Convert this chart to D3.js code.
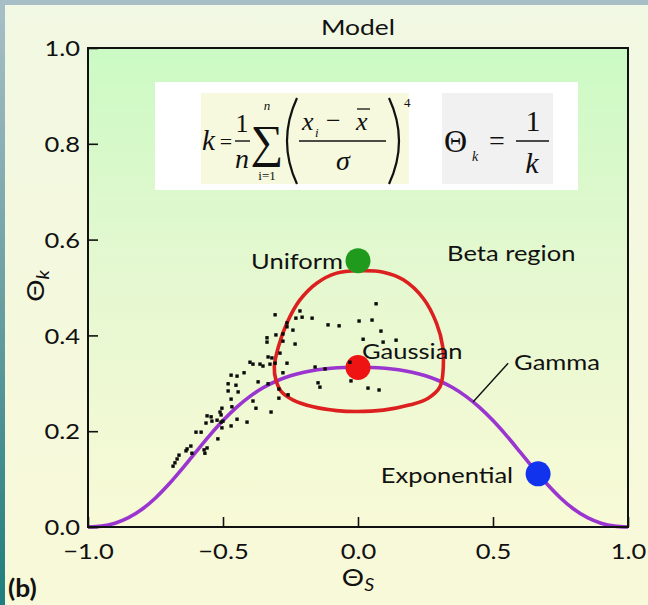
<!DOCTYPE html>
<html>
<head>
<meta charset="utf-8">
<script src="https://cdn.jsdelivr.net/npm/d3@7"></script>
<style>
  html, body { margin: 0; padding: 0; background: #f4f8df; }
  svg { display: block; }
</style>
</head>
<body>
<script>
// ---- data -------------------------------------------------------------
const xTickValues = [-1.0, -0.5, 0.0, 0.5, 1.0];
const yTickValues = [0.0, 0.2, 0.4, 0.6, 0.8, 1.0];

// Gamma family curve in the (Θs, Θk) plane
const gammaThetaS = [-1.0, -0.95, -0.9, -0.85, -0.8, -0.75, -0.7, -0.65, -0.6, -0.55, -0.5,
                     -0.45, -0.4, -0.35, -0.3, -0.25, -0.2, -0.15, -0.1, -0.05, 0.0,
                     0.05, 0.1, 0.15, 0.2, 0.25, 0.3, 0.35, 0.4, 0.45, 0.5,
                     0.55, 0.6, 0.65, 0.7, 0.75, 0.8, 0.85, 0.9, 0.95, 1.0];
const gammaThetaK = [0.0, 0.0018, 0.0080, 0.0195, 0.0370, 0.0606, 0.0896, 0.1223, 0.1569, 0.1908, 0.2222,
                     0.2497, 0.2727, 0.2911, 0.3053, 0.3158, 0.3232, 0.3282, 0.3313, 0.3329, 0.3333,
                     0.3329, 0.3313, 0.3282, 0.3232, 0.3158, 0.3053, 0.2911, 0.2727, 0.2497, 0.2222,
                     0.1908, 0.1569, 0.1223, 0.0896, 0.0606, 0.0370, 0.0195, 0.0080, 0.0018, 0.0];

// closed contour around the Gaussian point
const loopThetaS = [0.001, -0.079, -0.153, -0.215, -0.264, -0.295, -0.310, -0.304, -0.283, -0.240,
                    -0.166, -0.079, -0.005, 0.094, 0.193, 0.260, 0.304, 0.316, 0.314, 0.291,
                    0.242, 0.168, 0.094];
const loopThetaK = [0.535, 0.530, 0.509, 0.474, 0.425, 0.376, 0.335, 0.307, 0.282, 0.265,
                    0.251, 0.243, 0.241, 0.244, 0.255, 0.269, 0.293, 0.335, 0.376, 0.425,
                    0.477, 0.516, 0.532];

// observed samples
const sampleThetaS = [0.067, -0.307, -0.215, -0.230, -0.207, -0.170, -0.263, -0.263, -0.241, -0.111,
                      -0.070, 0.004, 0.052, 0.085, -0.337, -0.337, -0.304, -0.278, -0.278, -0.233,
                      0.019, 0.093, 0.141, -0.289, -0.333, -0.319, -0.400, -0.389, -0.363, -0.352,
                      -0.326, -0.307, -0.263, -0.159, -0.122, -0.030, -0.278, -0.422, -0.470, -0.448,
                      -0.370, -0.333, -0.481, -0.452, -0.481, -0.444, -0.293, -0.293, -0.259, -0.148,
                      -0.141, -0.026, 0.037, 0.078, -0.470, -0.389, -0.378, -0.322, -0.504, -0.467,
                      -0.511, -0.559, -0.544, -0.507, -0.563, -0.541, -0.522, -0.507, -0.500, -0.448,
                      -0.411, -0.470, -0.504, -0.600, -0.581, -0.519, -0.619, -0.633, -0.637, -0.559,
                      -0.570, -0.567, -0.615, -0.663, -0.670, -0.678, -0.685];
const sampleThetaK = [0.466, 0.443, 0.451, 0.436, 0.438, 0.436, 0.426, 0.418, 0.411, 0.422,
                      0.420, 0.430, 0.432, 0.409, 0.395, 0.386, 0.401, 0.403, 0.388, 0.382,
                      0.392, 0.386, 0.390, 0.363, 0.355, 0.353, 0.344, 0.340, 0.340, 0.336,
                      0.340, 0.342, 0.342, 0.334, 0.330, 0.344, 0.322, 0.322, 0.317, 0.315,
                      0.303, 0.299, 0.299, 0.296, 0.284, 0.282, 0.288, 0.269, 0.276, 0.301,
                      0.292, 0.305, 0.290, 0.286, 0.267, 0.263, 0.248, 0.240, 0.248, 0.251,
                      0.240, 0.232, 0.230, 0.234, 0.217, 0.221, 0.223, 0.219, 0.221, 0.225,
                      0.219, 0.211, 0.207, 0.198, 0.198, 0.184, 0.169, 0.163, 0.159, 0.165,
                      0.161, 0.154, 0.154, 0.150, 0.142, 0.134, 0.127];

// reference distributions
const modelNames  = ["Uniform", "Gaussian", "Exponential"];
const modelThetaS = [0.0, 0.0, 0.667];
const modelThetaK = [0.556, 0.333, 0.111];

// ---- styles -----------------------------------------------------------
const modelColor = { Uniform: "#1f9a1c", Gaussian: "#ee1414", Exponential: "#1233ee" };
const SANS = "Lato, 'Open Sans', sans-serif";
const SERIF = "'Liberation Serif', 'Times New Roman', serif";
const SX = 1.16; // horizontal stretch of the lettering
const FS = 22;   // label font size

// ---- layout -----------------------------------------------------------
const W = 648, H = 605;
const plot = { left: 88, right: 628, top: 48, bottom: 527 };

const svg = d3.select("body").append("svg").attr("width", W).attr("height", H);
const defs = svg.append("defs");

function vGrad(id, stops) {
  const g = defs.append("linearGradient").attr("id", id)
    .attr("x1", 0).attr("y1", 0).attr("x2", 0).attr("y2", 1);
  stops.forEach(([o, c]) => g.append("stop").attr("offset", o).attr("stop-color", c));
}
vGrad("edgeGrad", [[0, "#a9bfc7"], [0.5, "#6a9fa2"], [1, "#1f7d7d"]]);
vGrad("panelGrad", [[0, "#f1f8e3"], [1, "#f8f9d8"]]);
vGrad("plotGrad", [[0, "#cbfac4"], [0.45, "#e4f8d0"], [1, "#f8fad6"]]);

// slide edge and panel
svg.append("rect").attr("width", W).attr("height", H).attr("fill", "url(#edgeGrad)");
svg.append("rect").attr("width", W).attr("height", 5).attr("fill", "#a8bec6");
svg.append("rect").attr("x", 5).attr("y", 5).attr("width", W - 5).attr("height", H - 5)
  .attr("fill", "url(#panelGrad)");

const x = d3.scaleLinear().domain([-1, 1]).range([plot.left, plot.right]);
const y = d3.scaleLinear().domain([0, 1]).range([plot.bottom, plot.top]);

// plot background
svg.append("rect")
  .attr("x", plot.left).attr("y", plot.top)
  .attr("width", plot.right - plot.left).attr("height", plot.bottom - plot.top)
  .attr("fill", "url(#plotGrad)");

// helper: stretched text placed at (px, py)
function label(g, px, py, txt, opts = {}) {
  const t = g.append("text")
    .attr("transform", `translate(${px},${py}) scale(${opts.sx || SX},1)`)
    .attr("font-family", opts.family || SANS)
    .attr("font-size", opts.size || FS)
    .attr("font-weight", opts.weight || "normal")
    .attr("font-style", opts.style || "normal")
    .attr("text-anchor", opts.anchor || "start")
    .attr("dominant-baseline", opts.baseline || "auto")
    .attr("fill", opts.fill || "#111");
  if (txt !== null) t.text(txt);
  return t;
}

// ---- formula box ------------------------------------------------------
const fBox = svg.append("g");
fBox.append("rect").attr("x", 155).attr("y", 82).attr("width", 423).attr("height", 108).attr("fill", "#ffffff");
fBox.append("rect").attr("x", 201).attr("y", 93).attr("width", 208).attr("height", 91).attr("fill", "#f6f9dd");
fBox.append("rect").attr("x", 442).attr("y", 93).attr("width", 111).attr("height", 91).attr("fill", "#f1f1f1");

const fo = { family: SERIF, sx: 1.0, fill: "#111" };
label(fBox, 202, 150, "k", { ...fo, size: 29, style: "italic" });
label(fBox, 226, 149, "=", { ...fo, size: 22, anchor: "middle" });
label(fBox, 242, 132, "1", { ...fo, size: 26, anchor: "middle" });
fBox.append("line").attr("x1", 235).attr("x2", 250).attr("y1", 141).attr("y2", 141).attr("stroke", "#111").attr("stroke-width", 1.4);
label(fBox, 242, 168, "n", { ...fo, size: 28, style: "italic", anchor: "middle" });
label(fBox, 267, 157, "\u2211", { ...fo, size: 46, anchor: "middle" });
label(fBox, 267, 110, "n", { ...fo, size: 13, style: "italic", anchor: "middle" });
label(fBox, 267, 180, "i=1", { ...fo, size: 13, anchor: "middle" });
// large parentheses
fBox.append("path").attr("d", "M297,98 Q277,141 297,184").attr("fill", "none").attr("stroke", "#111").attr("stroke-width", 2.2);
fBox.append("path").attr("d", "M389,98 Q409,141 389,184").attr("fill", "none").attr("stroke", "#111").attr("stroke-width", 2.2);
label(fBox, 302, 130, "x", { ...fo, size: 26, style: "italic" });
label(fBox, 315, 137, "i", { ...fo, size: 13, style: "italic" });
label(fBox, 326, 129, "\u2212", { ...fo, size: 26 });
label(fBox, 356, 130, "x", { ...fo, size: 26, style: "italic" });
fBox.append("line").attr("x1", 357).attr("x2", 370).attr("y1", 109).attr("y2", 109).attr("stroke", "#111").attr("stroke-width", 1.3);
fBox.append("line").attr("x1", 299).attr("x2", 386).attr("y1", 141).attr("y2", 141).attr("stroke", "#111").attr("stroke-width", 1.4);
label(fBox, 343, 170, "\u03c3", { ...fo, size: 28, style: "italic", anchor: "middle" });
label(fBox, 404, 107, "4", { ...fo, size: 13 });

label(fBox, 444, 152, "\u0398", { ...fo, size: 32 });
label(fBox, 472, 161, "k", { ...fo, size: 14, style: "italic" });
label(fBox, 497, 150, "=", { ...fo, size: 28, anchor: "middle" });
label(fBox, 533, 131, "1", { ...fo, size: 30, anchor: "middle" });
fBox.append("line").attr("x1", 516).attr("x2", 549).attr("y1", 141).attr("y2", 141).attr("stroke", "#111").attr("stroke-width", 1.5);
label(fBox, 532, 173, "k", { ...fo, size: 30, style: "italic", anchor: "middle" });

// ---- curves -----------------------------------------------------------
const gammaLine = d3.line().x(d => x(d[0])).y(d => y(d[1])).curve(d3.curveMonotoneX);
svg.append("path")
  .datum(d3.zip(gammaThetaS, gammaThetaK))
  .attr("d", gammaLine)
  .attr("fill", "none").attr("stroke", "#9a36cf").attr("stroke-width", 3.6);

const loopLine = d3.line().x(d => x(d[0])).y(d => y(d[1])).curve(d3.curveCatmullRomClosed.alpha(0.5));
svg.append("path")
  .datum(d3.zip(loopThetaS, loopThetaK))
  .attr("d", loopLine)
  .attr("fill", "none").attr("stroke", "#dc2020").attr("stroke-width", 3.6);

// reference distribution markers
svg.selectAll("circle.model")
  .data(d3.zip(modelNames, modelThetaS, modelThetaK))
  .join("circle").attr("class", "model")
  .attr("cx", d => x(d[1])).attr("cy", d => y(d[2])).attr("r", 12.5)
  .attr("fill", d => modelColor[d[0]]);

// samples
svg.selectAll("rect.sample")
  .data(d3.zip(sampleThetaS, sampleThetaK))
  .join("rect").attr("class", "sample")
  .attr("x", d => x(d[0]) - 1.7).attr("y", d => y(d[1]) - 1.7)
  .attr("width", 3.4).attr("height", 3.4).attr("fill", "#0a0a0a");

// ---- frame & axes -----------------------------------------------------
svg.append("rect")
  .attr("x", plot.left).attr("y", plot.top)
  .attr("width", plot.right - plot.left).attr("height", plot.bottom - plot.top)
  .attr("fill", "none").attr("stroke", "#111").attr("stroke-width", 2);

const fmt = d3.format(".1f");
const yAxis = svg.append("g").attr("transform", `translate(${plot.left},0)`)
  .call(d3.axisLeft(y).tickValues(yTickValues).tickSize(-10).tickPadding(8).tickFormat(fmt));
const xAxis = svg.append("g").attr("transform", `translate(0,${plot.bottom})`)
  .call(d3.axisBottom(x).tickValues(xTickValues).tickSize(-10).tickPadding(8).tickFormat(fmt));
[yAxis, xAxis].forEach(a => {
  a.select(".domain").remove();
  a.selectAll(".tick line").attr("stroke", "#111").attr("stroke-width", 1.6);
  a.selectAll(".tick text").attr("fill", "#111").attr("font-family", SANS).attr("font-size", FS);
});
yAxis.selectAll(".tick text")
  .attr("x", null).attr("dy", "0.35em")
  .attr("transform", `translate(-8,0) scale(${SX},1)`);
xAxis.selectAll(".tick text")
  .attr("y", null).attr("dy", null)
  .attr("transform", `translate(0,32) scale(${SX},1)`);

// ---- labels -----------------------------------------------------------
const L = svg.append("g");
label(L, x(0), 35, "Model", { size: 22, anchor: "middle", sx: 1.2 });

// axis titles
const yt = L.append("text")
  .attr("transform", `translate(44,286) rotate(-90) scale(${SX},1)`)
  .attr("font-family", SANS).attr("font-size", 24).attr("fill", "#111").attr("text-anchor", "middle");
yt.append("tspan").text("\u0398");
yt.append("tspan").attr("font-size", 17).attr("dy", 5).attr("font-style", "italic").text("k");

const xt = L.append("text")
  .attr("transform", `translate(${x(0)},586) scale(${SX},1)`)
  .attr("font-family", SANS).attr("font-size", 24).attr("fill", "#111").attr("text-anchor", "middle");
xt.append("tspan").text("\u0398");
xt.append("tspan").attr("font-size", 17).attr("dy", 5).attr("font-style", "italic").text("S");

label(L, 8, 597, "(b)", { size: 24, weight: "bold", sx: 1.1 });

// distribution labels
const [uS, gS, eS] = modelThetaS, [uK, gK, eK] = modelThetaK;
label(L, x(uS) - 15, y(uK), "Uniform", { anchor: "end", baseline: "central" });
label(L, x(gS) + 4, y(gK) - 17, "Gaussian", { baseline: "central" });
label(L, x(eS) - 25, y(eK), "Exponential", { anchor: "end", baseline: "central" });
label(L, x(0.33), y(0.574), "Beta region", { baseline: "central" });

// Gamma label with leader line
const leaderFrom = [0.426, 0.261], leaderTo = [0.556, 0.342];
L.append("line")
  .attr("x1", x(leaderFrom[0])).attr("y1", y(leaderFrom[1]))
  .attr("x2", x(leaderTo[0])).attr("y2", y(leaderTo[1]))
  .attr("stroke", "#111").attr("stroke-width", 1.4);
label(L, x(leaderTo[0]) + 6, y(0.347), "Gamma", { baseline: "central" });
</script>
</body>
</html>
